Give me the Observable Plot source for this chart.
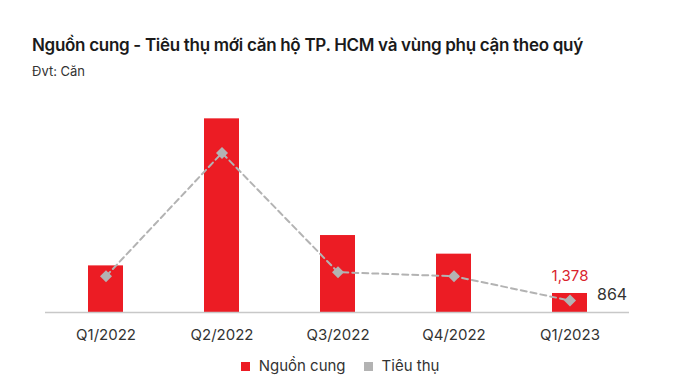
<!DOCTYPE html>
<html>
<head>
<meta charset="utf-8">
<script src="https://cdn.jsdelivr.net/npm/d3@7"></script>
<script src="https://cdn.jsdelivr.net/npm/@observablehq/plot@0.6"></script>
<style>
  html, body { margin: 0; padding: 0; background: #fff; }
  body { width: 680px; height: 384px; position: relative; overflow: hidden; font-family: Inter, "Noto Sans", sans-serif; color: #222; }
  #title { position: absolute; left: 32px; top: 35px; font-size: 17px; line-height: 20px; font-weight: 600; letter-spacing: -0.3px; color: #1a1a1a; }
  #subtitle { position: absolute; left: 32px; top: 63px; font-size: 13px; line-height: 16px; color: #333; }
  #chart { position: absolute; left: 0; top: 90px; }
  #legend { position: absolute; left: 0; width: 680px; top: 356px; display: flex; justify-content: center; gap: 18px; font-size: 15px; line-height: 20px; color: #333; }
  #legend .item { display: flex; align-items: center; gap: 9px; }
  #legend .sw { width: 9px; height: 9px; display: inline-block; }
</style>
</head>
<body>
<div id="title">Nguồn cung - Tiêu thụ mới căn hộ TP. HCM và vùng phụ cận theo quý</div>
<div id="subtitle">Đvt: Căn</div>
<div id="chart"></div>
<div id="legend"></div>
<script>
const quarters = ["Q1/2022", "Q2/2022", "Q3/2022", "Q4/2022", "Q1/2023"];
const supply = [3380, 14040, 5580, 4230, 1378];     // Nguồn cung
const sales = [2630, 11570, 2920, 2630, 864];       // Tiêu thụ
const seriesNames = ["Nguồn cung", "Tiêu thụ"];
const seriesColors = ["#ec1c24", "#b3b3b3"];

const supplyData = quarters.map((q, i) => ({q, v: supply[i]}));
const salesData = quarters.map((q, i) => ({q, v: sales[i]}));
const lastSupply = supplyData.slice(-1);
const lastSales = salesData.slice(-1);

const chart = Plot.plot({
  width: 680,
  height: 262,
  marginLeft: 45,
  marginRight: 51,
  marginTop: 22,
  marginBottom: 40,
  style: {fontFamily: "Inter, 'Noto Sans', sans-serif", fontSize: "15px", color: "#333", background: "transparent"},
  x: {domain: quarters, paddingInner: 0.7, paddingOuter: 0.35, label: null, tickSize: 0, tickPadding: 17},
  y: {domain: [0, 14500], axis: null},
  marks: [
    Plot.barY(supplyData, {x: "q", y: "v", fill: seriesColors[0]}),
    Plot.ruleY([0], {stroke: "#c8c8c8", strokeWidth: 1.5}),
    Plot.line(salesData, {x: "q", y: "v", stroke: seriesColors[1], strokeWidth: 2, strokeDasharray: "6,4"}),
    Plot.dot(salesData, {x: "q", y: "v", symbol: "diamond2", r: 5.4, fill: seriesColors[1], stroke: "none"}),
    Plot.text(lastSupply, {x: "q", y: "v", text: d => d3.format(",")(d.v), fill: "#d9232d", dy: -17, fontSize: 15}),
    Plot.text(lastSales, {x: "q", y: "v", text: d => d3.format(",")(d.v), fill: "#333", textAnchor: "start", dx: 27, dy: -6, fontSize: 16})
  ]
});
document.getElementById("chart").appendChild(chart);

const legend = document.getElementById("legend");
seriesNames.forEach((name, i) => {
  const item = document.createElement("span");
  item.className = "item";
  const sw = document.createElement("span");
  sw.className = "sw";
  sw.style.background = seriesColors[i];
  const label = document.createElement("span");
  label.textContent = name;
  item.appendChild(sw);
  item.appendChild(label);
  legend.appendChild(item);
});
</script>
</body>
</html>
